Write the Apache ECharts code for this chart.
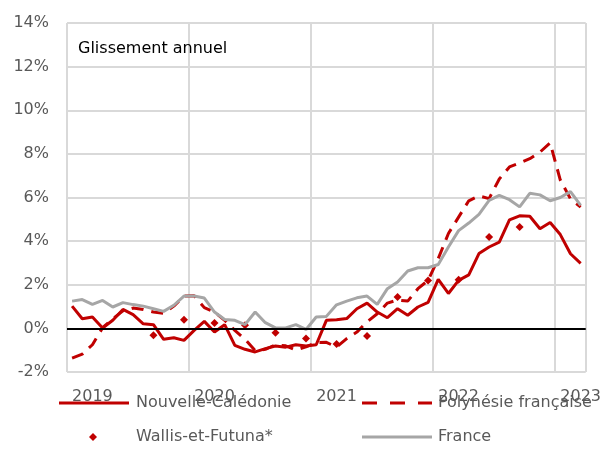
<!DOCTYPE html>
<html>
<head>
<meta charset="utf-8">
<script src="https://cdn.jsdelivr.net/npm/echarts@6/dist/echarts.min.js"></script>
<style>
  html, body { margin: 0; padding: 0; background: #fff; }
  #chart { width: 604px; height: 472px; }
</style>
</head>
<body>
<div id="chart"></div>
<script>
// months from 2018-11 to 2023-01 (51 points)
let months = [];
for (let y = 2018, m = 11; y < 2023 || (y === 2023 && m <= 1); m++) {
    if (m > 12) { m = 1; y++; }
    if (y === 2023 && m > 1) break;
    months.push(y + '-' + (m < 10 ? '0' + m : m));
}

const caledonie = [1.02, 0.44, 0.52, 0.02, 0.37, 0.87, 0.63, 0.21, 0.17, -0.5,
    -0.43, -0.55, -0.09, 0.32, -0.17, 0.17, -0.78, -0.96, -1.08, -0.93,
    -0.81, -0.86, -0.75, -0.81, -0.75, 0.37, 0.4, 0.45, 0.9, 1.16,
    0.75, 0.49, 0.9, 0.6, 0.98, 1.19, 2.25, 1.6, 2.2, 2.45,
    3.43, 3.73, 3.95, 4.97, 5.16, 5.14, 4.57, 4.85, 4.3, 3.42, 2.98];

const polynesie = [-1.36, -1.18, -0.75, 0.03, 0.44, 0.8, 0.93, 0.87, 0.75, 0.69,
    1.02, 1.48, 1.5, 0.95, 0.75, 0.37, -0.09, -0.5, -1.02, -0.96,
    -0.75, -0.8, -0.99, -0.85, -0.65, -0.64, -0.86, -0.47, -0.17, 0.3,
    0.67, 1.16, 1.3, 1.25, 1.82, 2.2, 3.2, 4.35, 5.1, 5.85,
    6.07, 5.95, 6.85, 7.4, 7.58, 7.78, 8.08, 8.5, 6.8, 5.94, 5.56];

// quarterly, only some points
const wallis = [null, null, null, null, null, null, null, null, -0.32, null,
    null, 0.4, null, null, 0.25, null, null, 0.14, null, null,
    -0.2, null, null, -0.46, null, null, -0.72, null, null, -0.35,
    null, null, 1.44, null, null, 2.2, null, null, 2.23, null,
    null, 4.19, null, null, 4.65, null, null, null, null, null, null];

const france = [1.25, 1.32, 1.1, 1.28, 0.98, 1.18, 1.09, 1.02, 0.9, 0.78,
    1.06, 1.48, 1.48, 1.39, 0.75, 0.41, 0.37, 0.17, 0.75, 0.26,
    0.02, 0.02, 0.17, -0.05, 0.52, 0.55, 1.08, 1.25, 1.4, 1.48,
    1.1, 1.82, 2.13, 2.63, 2.78, 2.78, 2.93, 3.73, 4.48, 4.83,
    5.23, 5.87, 6.1, 5.9, 5.57, 6.19, 6.12, 5.85, 6.0, 6.27, 5.64];

const red = '#C00000';
const grey = '#A6A6A6';
const font = 'DejaVu Sans';

// legend icons drawn as paths so they look like the excel ones
const solidIcon = 'path://M0,0H70V3H0Z';
const dashIcon = 'path://M0,0H15V3H0Z M28,0H43V3H28Z M56,0H70V3H56Z';

let chart = echarts.init(document.getElementById('chart'));

function legendAt(name, icon, left, top, w, h, pad) {
    return {
        data: [{ name: name, icon: icon }],
        left: left, top: top, padding: 0,
        itemWidth: w, itemHeight: h, itemGap: 0,
        textStyle: { fontFamily: font, fontSize: 16, color: '#595959', padding: [0, 0, 0, pad] },
        selectedMode: false
    };
}

let option = {
    animation: false,
    textStyle: { fontFamily: font },
    title: {
        text: 'Glissement annuel', left: 73, top: 36,
        textStyle: { fontFamily: font, fontSize: 16, fontWeight: 'normal', color: '#000' }
    },
    grid: { left: 67, right: 17, top: 23, bottom: 100 },
    legend: [
        legendAt('Nouvelle-Calédonie', solidIcon, 59, 395, 70, 3, 2),
        legendAt('Polynésie française', dashIcon, 362, 395, 70, 3, 1),
        legendAt('Wallis-et-Futuna*', 'diamond', 89, 429, 8, 8, 34),
        legendAt('France', solidIcon, 362, 429, 70, 3, 1)
    ],
    xAxis: {
        type: 'category',
        data: months,
        boundaryGap: true,
        axisLine: { show: false },
        axisTick: { show: false },
        axisLabel: {
            interval: function (i) { return i % 12 === 2; },
            formatter: function (v) { return v.slice(0, 4); },
            fontFamily: font, fontSize: 16, color: '#595959', margin: 17
        },
        splitLine: {
            show: true,
            interval: function (i) { return i % 12 === 0; },
            lineStyle: { color: '#D9D9D9', width: 2 }
        }
    },
    yAxis: {
        type: 'value',
        min: -2, max: 14, interval: 2,
        axisLine: { show: false },
        axisTick: { show: false },
        axisLabel: {
            formatter: '{value}%',
            fontFamily: font, fontSize: 16, color: '#595959', margin: 18
        },
        splitLine: { lineStyle: { color: '#D9D9D9', width: 2 } }
    },
    series: [
        {
            name: 'Nouvelle-Calédonie', type: 'line', data: caledonie,
            symbol: 'none', lineStyle: { color: red, width: 3 }, itemStyle: { color: red },
            markLine: {
                silent: true, symbol: ['none', 'none'], label: { show: false },
                lineStyle: { color: '#000', width: 2, type: 'solid' },
                data: [{ yAxis: 0 }]
            }
        },
        {
            name: 'Polynésie française', type: 'line', data: polynesie,
            symbol: 'none', lineStyle: { color: red, width: 3, type: [12, 8] }, itemStyle: { color: red }
        },
        {
            name: 'Wallis-et-Futuna*', type: 'scatter',
            data: wallis.map(function (v) { return v === null ? '-' : v; }),
            symbol: 'diamond', symbolSize: 8, itemStyle: { color: red, opacity: 1 }
        },
        {
            name: 'France', type: 'line', data: france,
            symbol: 'none', lineStyle: { color: grey, width: 3 }, itemStyle: { color: grey }
        }
    ]
};
chart.setOption(option);
</script>
</body>
</html>
